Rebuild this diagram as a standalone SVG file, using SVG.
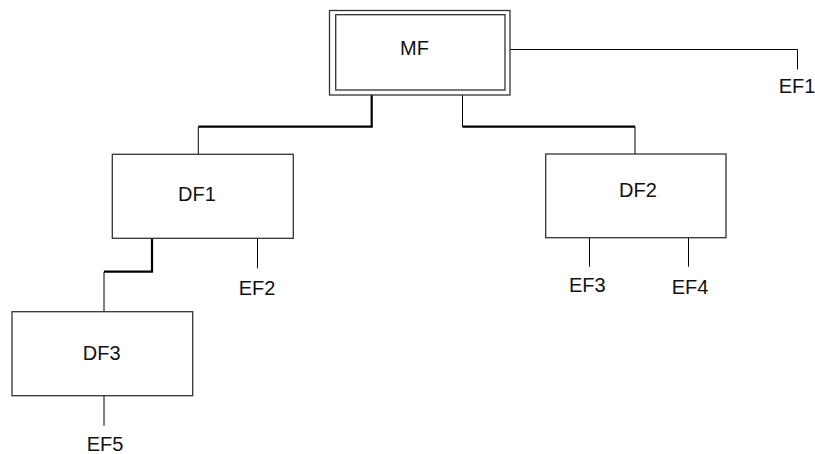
<svg xmlns="http://www.w3.org/2000/svg" width="815" height="454" viewBox="0 0 815 454">
<style>
.box{fill:#fff;stroke:#333;stroke-width:1.3}
.t{font-family:"Liberation Sans",Arial,sans-serif;font-size:20px;fill:#111;text-anchor:middle}
.thin{fill:none;stroke:#000;stroke-width:1}
.thick{fill:none;stroke:#000;stroke-width:2.2}
</style>
<rect width="815" height="454" fill="#fff"/>
<g id="connectors">
<path class="thick" d="M371.7,95 V126.7 H198.3"/>
<path class="thin" d="M198.3,126.7 V154.3"/>
<path class="thin" d="M462.5,95 V126.7"/>
<path class="thick" d="M462.5,126.7 H635"/>
<path class="thin" d="M635,126.7 V154"/>
<path class="thin" d="M510,49.5 H797.5 V69.5"/>
<path class="thick" d="M152,238.3 V271.7 H104"/>
<path class="thin" d="M104,271.7 V311.7"/>
<path class="thin" d="M257.5,238.3 V268.3"/>
<path class="thin" d="M589.5,237.7 V266.7"/>
<path class="thin" d="M688.5,237.7 V266.7"/>
<path class="thin" d="M104,395.7 V425.7"/>
</g>
<g id="MF">
<rect class="box" x="329.5" y="10.5" width="180.5" height="84.5"/>
<rect class="box" x="335.7" y="14.7" width="169.3" height="75.3"/>
<text class="t" x="414.5" y="55">MF</text>
</g>
<g id="DF1">
<rect class="box" x="112.3" y="154.3" width="181" height="84"/>
<text class="t" x="197" y="201">DF1</text>
</g>
<g id="DF2">
<rect class="box" x="545.7" y="154" width="180.3" height="83.7"/>
<text class="t" x="638" y="197">DF2</text>
</g>
<g id="DF3">
<rect class="box" x="12" y="311.7" width="180.7" height="84"/>
<text class="t" x="101.7" y="360">DF3</text>
</g>
<g id="EF1"><text class="t" x="797" y="93">EF1</text></g>
<g id="EF2"><text class="t" x="257" y="295">EF2</text></g>
<g id="EF3"><text class="t" x="587.3" y="291.7">EF3</text></g>
<g id="EF4"><text class="t" x="690" y="294">EF4</text></g>
<g id="EF5"><text class="t" x="105" y="451">EF5</text></g>
</svg>
